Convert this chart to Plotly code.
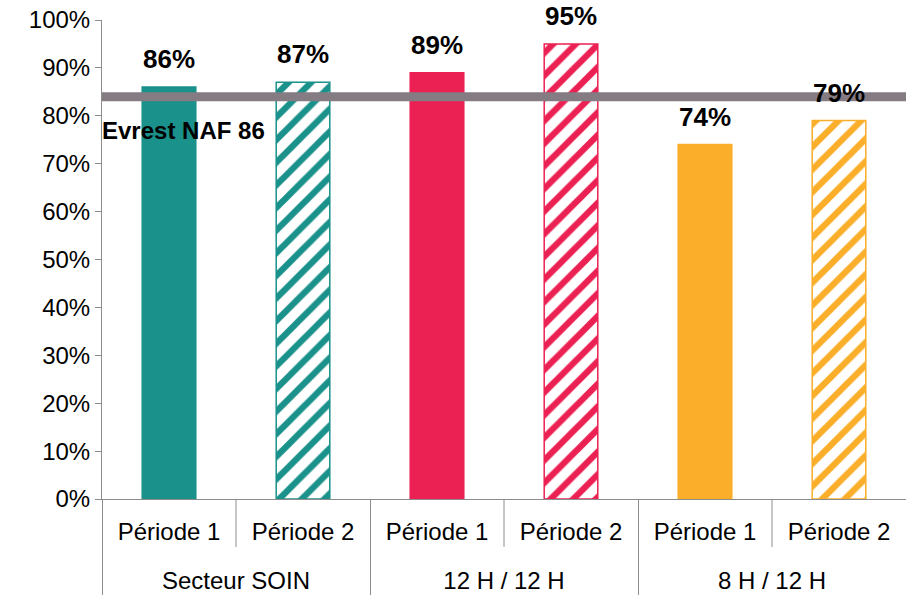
import plotly.graph_objects as go

groups = ["Secteur SOIN", "Secteur SOIN", "12 H / 12 H", "12 H / 12 H", "8 H / 12 H", "8 H / 12 H"]
periods = ["Période 1", "Période 2", "Période 1", "Période 2", "Période 1", "Période 2"]
values = [86, 87, 89, 95, 74, 79]
value_labels = ["86%", "87%", "89%", "95%", "74%", "79%"]
y_ticks = [0, 10, 20, 30, 40, 50, 60, 70, 80, 90, 100]
y_tick_labels = ["0%", "10%", "20%", "30%", "40%", "50%", "60%", "70%", "80%", "90%", "100%"]
reference_value = 84
reference_label = "Evrest NAF 86"
reference_label_y = 77

group_colors = {"Secteur SOIN": "#1A918A", "12 H / 12 H": "#EC2153", "8 H / 12 H": "#FAAE2A"}
colors = [group_colors[g] for g in groups]
hatched = [p == "Période 2" for p in periods]

FONT = "Liberation Sans, Arial, sans-serif"
AXIS_GRAY = "#8C8C8C"

fig = go.Figure()
fig.add_trace(go.Bar(
    x=[["<br>" + g for g in groups], periods],
    y=values,
    width=0.4,
    marker=dict(
        color=colors,
        line=dict(color=colors, width=1.5),
        pattern=dict(
            shape=["/" if h else "" for h in hatched],
            bgcolor="white",
            fillmode="replace",
            size=16,
            solidity=0.4,
        ),
    ),
    hoverinfo="skip",
    showlegend=False,
))

idx = list(range(len(values)))
# invisible helper trace on an overlaid numeric axis used to place labels
fig.add_trace(go.Scatter(x=idx, y=values, xaxis="x2", mode="markers",
                         marker=dict(opacity=0), hoverinfo="skip", showlegend=False))

annotations = []
for i, (v, t) in enumerate(zip(values, value_labels)):
    annotations.append(dict(
        x=i, y=v, xref="x2", yref="y", text=f"<b>{t}</b>", showarrow=False,
        yanchor="middle", yshift=28, font=dict(family=FONT, size=26, color="black"),
    ))
annotations.append(dict(
    x=0, y=reference_label_y, xref="paper", yref="y", xanchor="left", yanchor="middle",
    xshift=-2, text=f"<b>{reference_label}</b>", showarrow=False,
    font=dict(family=FONT, size=24, color="black"),
))

shapes = [dict(type="line", xref="paper", x0=0, x1=1, yref="y",
               y0=reference_value, y1=reference_value,
               line=dict(color="#857B83", width=9), layer="above")]
for i in range(len(values) - 1):
    if groups[i] == groups[i + 1]:
        shapes.append(dict(type="line", xref="x2", x0=i + 0.5, x1=i + 0.5,
                           yref="paper", y0=0, y1=-0.1,
                           line=dict(color=AXIS_GRAY, width=1)))

fig.update_layout(
    width=906, height=596,
    margin=dict(l=102, r=0, t=20, b=97),
    paper_bgcolor="white", plot_bgcolor="white",
    font=dict(family=FONT, size=24, color="black"),
    annotations=annotations,
    shapes=shapes,
    hovermode=False,
    xaxis=dict(
        type="multicategory", range=[-0.5, 5.5], automargin=False,
        showline=True, linecolor=AXIS_GRAY, linewidth=1,
        ticks="", ticklabelstandoff=11,
        showgrid=False,
        showdividers=True, dividercolor=AXIS_GRAY, dividerwidth=1,
        tickfont=dict(family=FONT, size=24, color="black"),
    ),
    xaxis2=dict(overlaying="x", range=[-0.5, 5.5], visible=False),
    yaxis=dict(
        range=[0, 100], tickvals=y_ticks, ticktext=y_tick_labels, automargin=False,
        showline=True, linecolor=AXIS_GRAY, linewidth=1,
        ticks="outside", ticklen=6, tickcolor=AXIS_GRAY,
        showgrid=False, zeroline=False, ticklabeloverflow="allow",
        tickfont=dict(family=FONT, size=24, color="black"),
    ),
)

fig.write_html("out.html", config={"displayModeBar": False},
               post_script="document.body.style.margin='0';")
